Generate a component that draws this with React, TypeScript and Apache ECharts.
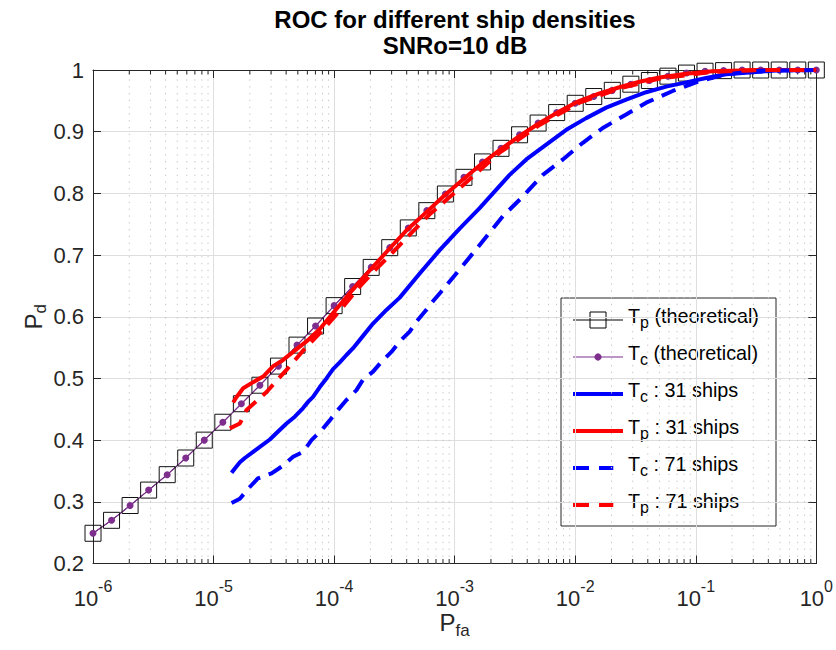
import React, { useEffect, useRef } from "react";
import * as echarts from "echarts";

// Theoretical ROC (40 log-spaced false-alarm probabilities)
const PFA_THEORY = [
  1e-6, 1.425e-6, 2.031e-6, 2.894e-6, 4.125e-6, 5.878e-6, 8.377e-6, 1.194e-5, 1.701e-5, 2.424e-5,
  3.455e-5, 4.924e-5, 7.017e-5, 1e-4, 1.425e-4, 2.031e-4, 2.894e-4, 4.125e-4, 5.878e-4, 8.377e-4,
  1.194e-3, 1.701e-3, 2.424e-3, 3.455e-3, 4.924e-3, 7.017e-3, 1e-2, 1.425e-2, 2.031e-2, 2.894e-2,
  4.125e-2, 5.878e-2, 8.377e-2, 0.1194, 0.1701, 0.2424, 0.3455, 0.4924, 0.7017, 1,
];
const PD_THEORY = [
  0.249, 0.27, 0.294, 0.319, 0.344, 0.371, 0.4, 0.429, 0.459, 0.489,
  0.52, 0.554, 0.585, 0.618, 0.649, 0.68, 0.712, 0.744, 0.772, 0.799,
  0.826, 0.851, 0.873, 0.895, 0.914, 0.931, 0.946, 0.957, 0.967, 0.977,
  0.983, 0.99, 0.995, 0.998, 0.999, 1, 1, 1, 1, 1,
];

// Simulated Tc detector, 31 ships
const PFA_TC31 = [
  1.411e-5, 1.502e-5, 1.653e-5, 1.818e-5, 2.13e-5, 2.421e-5, 2.93e-5, 3.432e-5, 4.03e-5, 4.72e-5,
  5.53e-5, 6.08e-5, 6.69e-5, 7.61e-5, 8.64e-5, 9.8e-5, 1.114e-4, 1.266e-4, 1.436e-4, 1.738e-4,
  2.103e-4, 2.717e-4, 3.501e-4, 5.128e-4, 7.51e-4, 1.1e-3, 1.611e-3, 2.077e-3, 2.856e-3, 3.927e-3,
  5.75e-3, 8.43e-3, 1.234e-2, 1.807e-2, 2.647e-2, 3.878e-2, 5.68e-2, 8.32e-2, 0.1218, 0.1784,
  0.278, 0.464, 1,
];
const PD_TC31 = [
  0.347, 0.354, 0.364, 0.371, 0.381, 0.389, 0.401, 0.414, 0.427, 0.438,
  0.452, 0.462, 0.47, 0.486, 0.5, 0.515, 0.526, 0.538, 0.549, 0.569,
  0.589, 0.611, 0.631, 0.67, 0.708, 0.743, 0.776, 0.8, 0.83, 0.855,
  0.879, 0.903, 0.922, 0.939, 0.952, 0.964, 0.973, 0.98, 0.987, 0.993,
  0.996, 0.999, 1,
];

// Simulated Tp detector, 31 ships
const PFA_TP31 = [
  1.454e-5, 1.552e-5, 1.76e-5, 2.13e-5, 2.578e-5, 3.121e-5, 3.776e-5, 4.57e-5, 5.9e-5, 7.61e-5,
  9.8e-5, 1.266e-4, 1.632e-4, 2.103e-4, 2.838e-4, 4.077e-4, 5.86e-4, 8.26e-4, 1.18e-3, 1.674e-3,
  2.36e-3, 3.457e-3, 5.06e-3, 7.42e-3, 1.086e-2, 1.591e-2, 2.329e-2, 3.412e-2, 4.997e-2, 8.32e-2,
  0.1374, 0.337, 1,
];
const PD_TP31 = [
  0.461, 0.47, 0.484, 0.494, 0.503, 0.52, 0.53, 0.543, 0.56, 0.58,
  0.606, 0.632, 0.657, 0.681, 0.709, 0.742, 0.77, 0.797, 0.823, 0.848,
  0.87, 0.893, 0.914, 0.933, 0.95, 0.962, 0.972, 0.981, 0.988, 0.994,
  0.998, 1, 1,
];

// Simulated Tc detector, 71 ships
const PFA_TC71 = [
  1.411e-5, 1.653e-5, 1.999e-5, 2.331e-5, 3.027e-5, 3.663e-5, 4.57e-5, 5.53e-5, 6.494e-5, 7.858e-5,
  9.2e-5, 1.078e-4, 1.266e-4, 1.532e-4, 1.738e-4, 2.103e-4, 2.469e-4, 2.988e-4, 3.501e-4, 4.236e-4,
  4.814e-4, 5.64e-4, 6.607e-4, 7.756e-4, 1.04e-3, 1.418e-3, 2.513e-3, 3.681e-3, 5.39e-3, 7.9e-3,
  1.157e-2, 1.694e-2, 2.647e-2, 3.878e-2, 6.44e-2, 0.1072, 0.1784, 0.337, 1,
];
const PD_TC71 = [
  0.298, 0.305, 0.324, 0.338, 0.346, 0.357, 0.373, 0.381, 0.4, 0.416,
  0.432, 0.449, 0.465, 0.481, 0.498, 0.511, 0.527, 0.543, 0.56, 0.576,
  0.592, 0.608, 0.625, 0.641, 0.671, 0.703, 0.763, 0.795, 0.83, 0.855,
  0.882, 0.906, 0.928, 0.947, 0.966, 0.982, 0.993, 0.999, 1,
];

// Simulated Tp detector, 71 ships
const PFA_TP71 = [
  1.365e-5, 1.653e-5, 1.878e-5, 2.201e-5, 2.752e-5, 3.121e-5, 4.03e-5, 5.53e-5, 8.1e-5, 1.151e-4,
  1.532e-4, 2.173e-4, 3.081e-4, 4.377e-4, 6.207e-4, 9.09e-4, 1.25e-3, 2.36e-3, 5.06e-3, 1.086e-2,
  2.329e-2, 4.997e-2, 0.1374, 0.337, 1,
];
const PD_TP71 = [
  0.419, 0.427, 0.449, 0.461, 0.478, 0.49, 0.514, 0.545, 0.579, 0.613,
  0.643, 0.675, 0.705, 0.736, 0.766, 0.794, 0.818, 0.866, 0.911, 0.947,
  0.97, 0.986, 0.997, 1, 1,
];

// Axis ranges and log minor-grid positions
const X_MIN = 1e-6;
const X_MAX = 1;
const Y_MIN = 0.2;
const Y_MAX = 1;
const Y_STEP = 0.1;
const MINOR_DECADES = [-6, -5, -4, -3, -2, -1];
const MINOR_MANTISSAS = [2, 3, 4, 5, 6, 7, 8, 9];

const FONT = '"Liberation Sans", Arial, Helvetica, sans-serif';
const AXIS_COLOR = "#262626";
const BLUE = "#0000ff";
const RED = "#ff0000";
const PURPLE = "#7e2f8e";

type LegendRow = { sub: string; label: string; kind: "square" | "dot" | "solid" | "dashed"; color: string };
const LEGEND_ROWS: LegendRow[] = [
  { sub: "p", label: " (theoretical)", kind: "square", color: "#000000" },
  { sub: "c", label: " (theoretical)", kind: "dot", color: PURPLE },
  { sub: "c", label: " : 31 ships", kind: "solid", color: BLUE },
  { sub: "p", label: " : 31 ships", kind: "solid", color: RED },
  { sub: "c", label: " : 71 ships", kind: "dashed", color: BLUE },
  { sub: "p", label: " : 71 ships", kind: "dashed", color: RED },
];

const pairs = (xs: number[], ys: number[]) => xs.map((x, i) => [x, ys[i]]);

const minorTicks = MINOR_DECADES.flatMap((d) => MINOR_MANTISSAS.map((m) => m * Math.pow(10, d)));

function buildLegend() {
  const left = 561;
  const top = 298;
  const width = 215;
  const height = 228;
  const firstRow = 320;
  const rowGap = 37;
  const sampleX0 = 573;
  const sampleX1 = 623;
  const textX = 628;
  const children: any[] = [
    {
      type: "rect",
      shape: { x: left, y: top, width, height },
      style: { fill: "#ffffff", stroke: AXIS_COLOR, lineWidth: 1 },
    },
  ];
  LEGEND_ROWS.forEach((row, i) => {
    const y = firstRow + i * rowGap;
    if (row.kind === "square" || row.kind === "dot") {
      children.push({
        type: "line",
        shape: { x1: sampleX0, y1: y, x2: sampleX1, y2: y },
        style: { stroke: row.color, lineWidth: row.kind === "dot" ? 1.2 : 1 },
      });
      if (row.kind === "square") {
        children.push({
          type: "rect",
          shape: { x: 590, y: y - 8, width: 16, height: 16 },
          style: { fill: "none", stroke: "#000000", lineWidth: 1 },
        });
      } else {
        children.push({
          type: "circle",
          shape: { cx: 598, cy: y, r: 3.6 },
          style: { fill: row.color },
        });
      }
    } else if (row.kind === "solid") {
      children.push({
        type: "line",
        shape: { x1: sampleX0, y1: y, x2: sampleX1, y2: y },
        style: { stroke: row.color, lineWidth: 4 },
      });
    } else {
      children.push({
        type: "line",
        shape: { x1: sampleX0, y1: y, x2: 613.3, y2: y },
        style: { stroke: row.color, lineWidth: 4, lineDash: [16, 10] },
      });
    }
    children.push({
      type: "text",
      x: textX,
      y: y - 2,
      style: {
        text: `{t|T}{s|${row.sub}}{r|${row.label}}`,
        fill: "#000000",
        align: "left",
        verticalAlign: "middle",
        textAlign: "left",
        textVerticalAlign: "middle",
        rich: {
          t: { fontSize: 19.8, fontFamily: FONT, fill: "#000000", verticalAlign: "top" },
          s: { fontSize: 16, fontFamily: FONT, fill: "#000000", verticalAlign: "top", padding: [8, 0, 0, 0] },
          r: { fontSize: 19.8, fontFamily: FONT, fill: "#000000", verticalAlign: "top" },
        },
      },
    });
  });
  return { type: "group", z: 100, children };
}

function buildOption() {
  const lineSeries = (name: string, data: number[][], color: string, dashed: boolean) => ({
    name,
    type: "line",
    data,
    showSymbol: false,
    clip: false,
    silent: true,
    emphasis: { disabled: true },
    lineStyle: { color, width: 4, type: dashed ? [15, 9] : "solid", join: "round" },
    z: 4,
  });

  return {
    animation: false,
    backgroundColor: "#ffffff",
    grid: { left: 93, right: 19, top: 70, bottom: 86.5, containLabel: false },
    xAxis: [
      {
        type: "log",
        logBase: 10,
        min: X_MIN,
        max: X_MAX,
        splitNumber: 6,
        position: "bottom",
        name: "{p|P}{s|fa}",
        nameLocation: "middle",
        nameGap: 47,
        nameMoveOverlap: false,
        nameTextStyle: {
          rich: {
            p: { fontSize: 24, fontFamily: FONT, color: AXIS_COLOR, verticalAlign: "top" },
            s: { fontSize: 17, fontFamily: FONT, color: AXIS_COLOR, verticalAlign: "top", padding: [11, 0, 0, 0] },
          },
        },
        axisLine: { show: true, onZero: false, lineStyle: { color: AXIS_COLOR, width: 1 } },
        axisTick: { show: true, inside: true, length: 8, lineStyle: { color: AXIS_COLOR, width: 1 } },
        axisLabel: {
          show: true,
          margin: 15,
          showMinLabel: true,
          showMaxLabel: true,
          formatter: (v: number) => `{b|10}{s|${Math.round(Math.log10(v))}}`,
          rich: {
            b: { fontSize: 22, fontFamily: FONT, color: AXIS_COLOR, verticalAlign: "top", padding: [9, 0, 0, 0] },
            s: { fontSize: 16, fontFamily: FONT, color: AXIS_COLOR, verticalAlign: "top" },
          },
        },
        splitLine: { show: true, lineStyle: { color: "#dedede", width: 1 } },
      },
      {
        type: "log",
        logBase: 10,
        min: X_MIN,
        max: X_MAX,
        splitNumber: 6,
        position: "top",
        axisLine: { show: true, onZero: false, lineStyle: { color: AXIS_COLOR, width: 1 } },
        axisTick: { show: true, inside: true, length: 8, lineStyle: { color: AXIS_COLOR, width: 1 } },
        axisLabel: { show: false },
        splitLine: { show: false },
      },
    ],
    yAxis: [
      {
        type: "value",
        min: Y_MIN,
        max: Y_MAX,
        interval: Y_STEP,
        position: "left",
        name: "{p|P}{s|d}",
        nameLocation: "middle",
        nameGap: 44,
        nameMoveOverlap: false,
        nameTextStyle: {
          rich: {
            p: { fontSize: 24, fontFamily: FONT, color: AXIS_COLOR, verticalAlign: "top" },
            s: { fontSize: 17, fontFamily: FONT, color: AXIS_COLOR, verticalAlign: "top", padding: [11, 0, 0, 0] },
          },
        },
        axisLine: { show: true, onZero: false, lineStyle: { color: AXIS_COLOR, width: 1 } },
        axisTick: { show: true, inside: true, length: 8, lineStyle: { color: AXIS_COLOR, width: 1 } },
        axisLabel: { show: true, margin: 9, fontSize: 22, fontFamily: FONT, color: AXIS_COLOR },
        splitLine: { show: true, lineStyle: { color: "#dedede", width: 1 } },
      },
      {
        type: "value",
        min: Y_MIN,
        max: Y_MAX,
        interval: Y_STEP,
        position: "right",
        axisLine: { show: true, onZero: false, lineStyle: { color: AXIS_COLOR, width: 1 } },
        axisTick: { show: true, inside: true, length: 8, lineStyle: { color: AXIS_COLOR, width: 1 } },
        axisLabel: { show: false },
        splitLine: { show: false },
      },
    ],
    graphic: [
      {
        type: "text",
        x: 455,
        y: 19,
        z: 100,
        style: {
          text: "ROC for different ship densities",
          fontSize: 24,
          fontWeight: "bold",
          fontFamily: FONT,
          fill: "#000000",
          align: "center",
          verticalAlign: "middle",
          textAlign: "center",
          textVerticalAlign: "middle",
        },
      },
      {
        type: "text",
        x: 455,
        y: 45,
        z: 100,
        style: {
          text: "SNRo=10 dB",
          fontSize: 24,
          fontWeight: "bold",
          fontFamily: FONT,
          fill: "#000000",
          align: "center",
          verticalAlign: "middle",
          textAlign: "center",
          textVerticalAlign: "middle",
        },
      },
      buildLegend(),
    ],
    series: [
      {
        // dotted minor grid and minor ticks at log positions 2..9 per decade
        type: "custom",
        silent: true,
        z: 1,
        data: minorTicks.map((v) => [v, Y_MIN]),
        encode: { x: 0, y: 1 },
        renderItem: (_params: any, api: any) => {
          const xv = api.value(0);
          const b = api.coord([xv, Y_MIN]);
          const t = api.coord([xv, Y_MAX]);
          return {
            type: "group",
            children: [
              {
                type: "line",
                shape: { x1: b[0], y1: b[1], x2: t[0], y2: t[1] },
                style: { stroke: "#c4c4c4", lineWidth: 1, lineDash: [1.3, 5.5] },
              },
              {
                type: "line",
                shape: { x1: b[0], y1: b[1], x2: b[0], y2: b[1] - 4.5 },
                style: { stroke: AXIS_COLOR, lineWidth: 1 },
              },
              {
                type: "line",
                shape: { x1: t[0], y1: t[1], x2: t[0], y2: t[1] + 4.5 },
                style: { stroke: AXIS_COLOR, lineWidth: 1 },
              },
            ],
          };
        },
      },
      {
        name: "Tp (theoretical)",
        type: "line",
        data: pairs(PFA_THEORY, PD_THEORY),
        symbol: "rect",
        symbolSize: 16,
        showSymbol: true,
        showAllSymbol: true,
        clip: false,
        silent: true,
        emphasis: { disabled: true },
        itemStyle: { color: "rgba(0,0,0,0)", borderColor: "#111111", borderWidth: 1 },
        lineStyle: { color: "#000000", width: 1 },
        z: 3,
      },
      {
        name: "Tc (theoretical)",
        type: "line",
        data: pairs(PFA_THEORY, PD_THEORY),
        symbol: "circle",
        symbolSize: 7,
        showSymbol: true,
        showAllSymbol: true,
        clip: false,
        silent: true,
        emphasis: { disabled: true },
        itemStyle: { color: PURPLE, borderWidth: 0 },
        lineStyle: { color: PURPLE, width: 1.2 },
        z: 3,
      },
      lineSeries("Tc : 31 ships", pairs(PFA_TC31, PD_TC31), BLUE, false),
      lineSeries("Tp : 31 ships", pairs(PFA_TP31, PD_TP31), RED, false),
      lineSeries("Tc : 71 ships", pairs(PFA_TC71, PD_TC71), BLUE, true),
      lineSeries("Tp : 71 ships", pairs(PFA_TP71, PD_TP71), RED, true),
    ],
  };
}

export default function App() {
  const ref = useRef<HTMLDivElement>(null);
  useEffect(() => {
    if (!ref.current) return;
    const chart = echarts.init(ref.current, null, { renderer: "svg" });
    chart.setOption(buildOption() as any);
    return () => chart.dispose();
  }, []);
  return (
    <div
      ref={ref}
      style={{ position: "fixed", left: 0, top: 0, width: 836, height: 650, background: "#ffffff" }}
    />
  );
}
